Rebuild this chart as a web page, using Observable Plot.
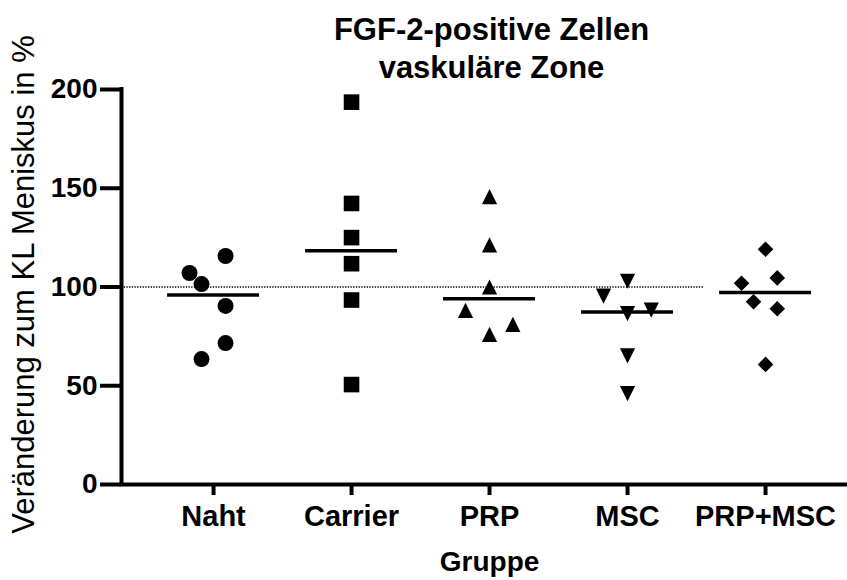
<!DOCTYPE html>
<html><head><meta charset="utf-8">
<script src="https://cdn.jsdelivr.net/npm/d3@7"></script>
<script src="https://cdn.jsdelivr.net/npm/@observablehq/plot@0.6"></script>
<style>body{margin:0;background:#fff;}</style>
</head><body><div id="chart"></div>
<script>
// ---- data ----
const categories = ["Naht", "Carrier", "PRP", "MSC", "PRP+MSC"];
const nahtValues    = [115.7, 107.1, 101.5, 90.4, 71.6, 63.5];
const carrierValues = [193.6, 142.3, 125.0, 111.8, 93.4, 50.6];
const prpValues     = [145.8, 121.3, 100.0, 88.2, 81.1, 76.0];
const mscValues     = [102.9, 95.4, 86.5, 88.3, 65.1, 46.0];
const prpMscValues  = [119.1, 104.6, 101.9, 92.5, 89.0, 60.8];
// horizontal scatter offsets (in category units) as seen in the picture
const nahtJitter    = [0.087, -0.174, -0.087, 0.087, 0.087, -0.087];
const carrierJitter = [0, 0, 0, 0, 0, 0];
const prpJitter     = [0, 0, 0, -0.174, 0.169, 0];
const mscJitter     = [0, -0.174, 0, 0.172, 0, 0];
const prpMscJitter  = [0, 0.085, -0.174, -0.087, 0.085, 0];
const yTicks = [0, 50, 100, 150, 200];
const referenceValue = 100;
const referenceEnd = 3.55;
const titleLines = ["FGF-2-positive Zellen", "vaskuläre Zone"];
const yLabel = "Veränderung zum KL Meniskus in %";
const xLabel = "Gruppe";

// ---- symbols ----
const half = s => Math.sqrt(s / Math.PI);
const symCircle = {draw(c, s) { const r = half(s); c.moveTo(r, 0); c.arc(0, 0, r, 0, 2 * Math.PI); }};
const symSquare = {draw(c, s) { const r = half(s); c.rect(-r, -r, 2 * r, 2 * r); }};
const symUp = {draw(c, s) { const r = half(s); c.moveTo(0, -r); c.lineTo(r, r); c.lineTo(-r, r); c.closePath(); }};
const symDown = {draw(c, s) { const r = half(s); c.moveTo(0, r); c.lineTo(r, -r); c.lineTo(-r, -r); c.closePath(); }};
const symDiamond = {draw(c, s) { const r = half(s); c.moveTo(0, -r); c.lineTo(r, 0); c.lineTo(0, r); c.lineTo(-r, 0); c.closePath(); }};

const groups = [
  {values: nahtValues, jitter: nahtJitter, symbol: symCircle, r: 8},
  {values: carrierValues, jitter: carrierJitter, symbol: symSquare, r: 7.8},
  {values: prpValues, jitter: prpJitter, symbol: symUp, r: 7.6},
  {values: mscValues, jitter: mscJitter, symbol: symDown, r: 7.6},
  {values: prpMscValues, jitter: prpMscJitter, symbol: symDiamond, r: 7.8}
];
const medians = groups.map((g, gi) => ({gi, m: d3.median(g.values)}));
const medianHalf = 0.333;
const xDomain = [-0.667, 4.594];

const chart = Plot.plot({
  width: 847,
  height: 580,
  marginTop: 89,
  marginBottom: 96,
  marginLeft: 121,
  marginRight: 0,
  style: {fontFamily: "'Liberation Sans', Arial, sans-serif", fontWeight: "bold", fontSize: "28px", background: "white", color: "black", overflow: "visible"},
  x: {domain: xDomain},
  y: {domain: [0, 200]},
  marks: [
    Plot.ruleY([referenceValue], {x1: xDomain[0], x2: referenceEnd, stroke: "black", strokeWidth: 1.4, strokeDasharray: "1.3,1.4"}),
    ...groups.map((g, gi) => Plot.dot(g.values, {
      x: (d, i) => gi + g.jitter[i], y: d => d,
      symbol: g.symbol, r: g.r, fill: "black", stroke: "none"
    })),
    Plot.ruleY(medians, {y: "m", x1: d => d.gi - medianHalf, x2: d => d.gi + medianHalf, stroke: "black", strokeWidth: 3.5}),
    Plot.axisY({ticks: yTicks, tickSize: 21, tickPadding: 3, strokeWidth: 4, fontSize: 28, label: null}),
    Plot.axisX({ticks: categories.map((_, i) => i), tickFormat: i => categories[i], tickSize: 11, tickPadding: 10, strokeWidth: 4, fontSize: 29, label: null}),
    Plot.ruleY([0], {stroke: "black", strokeWidth: 4, strokeLinecap: "square"}),
    Plot.ruleX([xDomain[0]], {stroke: "black", strokeWidth: 4, strokeLinecap: "square"}),
    Plot.text([xLabel], {text: d => d, x: (categories.length - 1) / 2, frameAnchor: "bottom", lineAnchor: "top", dy: 67, fontSize: 28}),
    Plot.text([titleLines.join("\n")], {text: d => d, frameAnchor: "top", lineAnchor: "top", dy: -77, dx: 7, fontSize: 31, lineHeight: 1.24}),
    Plot.text([yLabel], {text: d => d, frameAnchor: "left", textAnchor: "middle", rotate: -90, dx: -97, dy: -2.5, lineAnchor: "middle", fontSize: 31, fontWeight: "normal"})
  ]
});
document.getElementById("chart").appendChild(chart);
</script>
</body></html>
